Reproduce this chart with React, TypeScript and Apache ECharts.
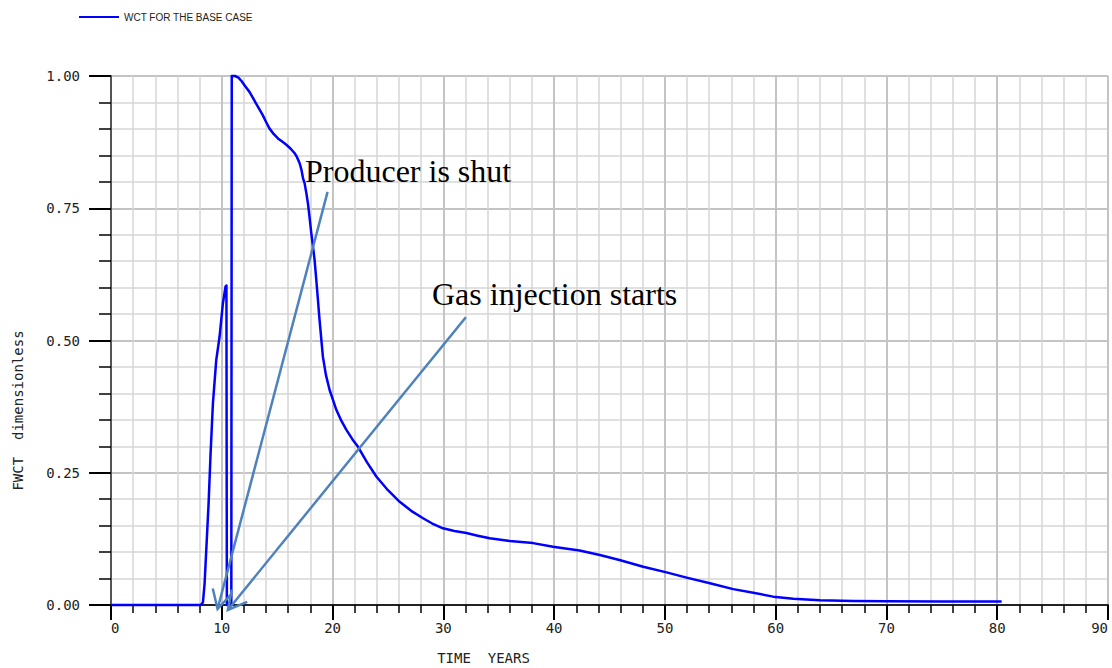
import React, { useEffect, useRef } from "react";
import * as echarts from "echarts";

// Water cut (FWCT) against time, base case
const timeYears = [
  0, 8.1, 8.3, 8.45, 8.81, 8.99, 9.2, 9.5, 9.8, 10.1, 10.34, 10.42, 10.46, 10.86, 10.9,
  11.2, 11.5, 11.8, 12.1, 12.5, 12.8, 13.1, 13.4, 13.7, 14.0, 14.3, 14.7, 15.07, 15.45,
  15.83, 16.2, 16.58, 16.8, 17.03, 17.2, 17.33, 17.48, 17.63, 17.78, 17.93, 18.08, 18.23,
  18.38, 18.53, 18.68, 18.8, 18.95, 19.13, 19.4, 19.74, 20.0, 20.34, 20.8, 21.25, 21.8,
  22.3, 23.1, 23.95, 25.0, 26.06, 27.1, 28.17, 29.0, 29.97, 31.0, 32.09, 33.1, 34.19, 36.0,
  38.1, 39.9, 42.3, 44.13, 45.9, 48.04, 50.15, 51.96, 54.07, 56.17, 57.98, 59.78, 61.59,
  64.0, 67.0, 70, 75, 80.4,
];
const wct = [
  0, 0, 0.005, 0.041, 0.192, 0.287, 0.381, 0.463, 0.507, 0.57, 0.602, 0.604, 0, 0, 1.0,
  1.0, 0.997, 0.99, 0.981, 0.97, 0.959, 0.948, 0.937, 0.926, 0.913, 0.901, 0.89, 0.882,
  0.876, 0.87, 0.863, 0.854, 0.846, 0.835, 0.822, 0.807, 0.797, 0.779, 0.759, 0.732, 0.703,
  0.678, 0.652, 0.615, 0.577, 0.545, 0.51, 0.469, 0.435, 0.406, 0.39, 0.369, 0.348, 0.331,
  0.313, 0.299, 0.27, 0.243, 0.217, 0.195, 0.178, 0.164, 0.154, 0.145, 0.14, 0.136, 0.131,
  0.126, 0.121, 0.117, 0.11, 0.103, 0.0945, 0.085, 0.0724, 0.0617, 0.0517, 0.041, 0.03,
  0.0233, 0.0158, 0.012, 0.0088, 0.0076, 0.007, 0.0068, 0.0065,
];

const seriesName = "WCT FOR THE BASE CASE";

// Annotation arrows: [tipX, tipY, tailX, tailY] in axis units
const arrows = [
  [9.62, -0.0076, 19.55, 0.781],
  [10.55, -0.0095, 32.03, 0.544],
];
const annotations = ["Producer is shut", "Gas injection starts"];

export default function App() {
  const ref = useRef<HTMLDivElement>(null);

  useEffect(() => {
    if (!ref.current) return;
    const chart = echarts.init(ref.current, undefined, { renderer: "svg" });

    const lineData = timeYears.map((t, i) => [t, wct[i]]);
    const monoFont = "DejaVu Sans Mono";
    const tickFont = { fontFamily: monoFont, fontSize: 14, color: "#222" };

    chart.setOption({
      animation: false,
      backgroundColor: "#ffffff",
      legend: {
        data: [seriesName],
        left: 79,
        top: 12,
        padding: 0,
        icon: "rect",
        itemWidth: 40,
        itemHeight: 2,
        textStyle: { fontFamily: "Liberation Sans", fontSize: 10, color: "#222" },
      },
      grid: { left: 111, right: 4, top: 76, bottom: 63, outerBoundsMode: "none" },
      xAxis: {
        type: "value",
        min: 0,
        max: 90,
        interval: 10,
        name: "TIME  YEARS",
        nameLocation: "middle",
        nameGap: 46,
        nameTextStyle: {
          fontFamily: monoFont,
          fontSize: 14,
          color: "#222",
          padding: [0, 252, 0, 0],
        },
        axisLine: { show: true, onZero: false, lineStyle: { color: "#222", width: 2 } },
        axisTick: { show: true, length: 15, lineStyle: { color: "#000", width: 2 } },
        minorTick: { show: true, splitNumber: 5, length: 8, lineStyle: { color: "#000", width: 1.5 } },
        axisLabel: { ...tickFont, margin: 16, alignMinLabel: "left", alignMaxLabel: "right" },
        splitLine: { show: true, lineStyle: { color: "#c4c4c4", width: 2 } },
        minorSplitLine: { show: true, lineStyle: { color: "#d6d6d6", width: 1.5 } },
      },
      yAxis: {
        type: "value",
        min: 0,
        max: 1,
        interval: 0.25,
        name: "FWCT  dimensionless",
        nameLocation: "middle",
        nameGap: 86,
        nameTextStyle: {
          fontFamily: monoFont,
          fontSize: 14,
          color: "#222",
          padding: [0, 140, 0, 0],
        },
        axisLine: { show: true, lineStyle: { color: "#555", width: 2 } },
        axisTick: { show: true, length: 22, lineStyle: { color: "#000", width: 2 } },
        minorTick: { show: true, splitNumber: 5, length: 12, lineStyle: { color: "#000", width: 1.5 } },
        axisLabel: { ...tickFont, margin: 31, formatter: (v: number) => v.toFixed(2) },
        splitLine: { show: true, lineStyle: { color: "#c4c4c4", width: 2 } },
        minorSplitLine: { show: true, lineStyle: { color: "#d6d6d6", width: 1.5 } },
      },
      graphic: [
        {
          type: "text",
          left: 305,
          top: 155,
          z: 100,
          style: {
            text: annotations[0],
            font: "32px 'Liberation Serif'",
            fill: "#000",
          },
        },
        {
          type: "text",
          left: 432,
          top: 278,
          z: 100,
          style: {
            text: annotations[1],
            font: "32px 'Liberation Serif'",
            fill: "#000",
          },
        },
      ],
      series: [
        {
          name: seriesName,
          type: "line",
          data: lineData,
          showSymbol: false,
          symbol: "none",
          clip: false,
          z: 5,
          lineStyle: { color: "#0000ff", width: 2.5, join: "round" },
          itemStyle: { color: "#0000ff" },
        },
        {
          name: "arrows",
          type: "custom",
          data: arrows,
          clip: false,
          z: 10,
          encode: { x: [0, 2], y: [1, 3] },
          renderItem: (_params: any, api: any) => {
            const tip = api.coord([api.value(0), api.value(1)]);
            const tail = api.coord([api.value(2), api.value(3)]);
            const ang = Math.atan2(tail[1] - tip[1], tail[0] - tip[0]);
            const wing = 21;
            const spread = (28 * Math.PI) / 180;
            const w1 = [tip[0] + wing * Math.cos(ang + spread), tip[1] + wing * Math.sin(ang + spread)];
            const w2 = [tip[0] + wing * Math.cos(ang - spread), tip[1] + wing * Math.sin(ang - spread)];
            const style = { stroke: "#4f81bd", lineWidth: 2.5, fill: null };
            return {
              type: "group",
              children: [
                { type: "line", shape: { x1: tail[0], y1: tail[1], x2: tip[0], y2: tip[1] }, style },
                { type: "polyline", shape: { points: [w1, tip, w2] }, style },
              ],
            };
          },
        },
      ],
    });

    return () => chart.dispose();
  }, []);

  return (
    <div
      ref={ref}
      style={{ position: "fixed", left: 0, top: 0, width: 1112, height: 668, background: "#fff" }}
    />
  );
}
